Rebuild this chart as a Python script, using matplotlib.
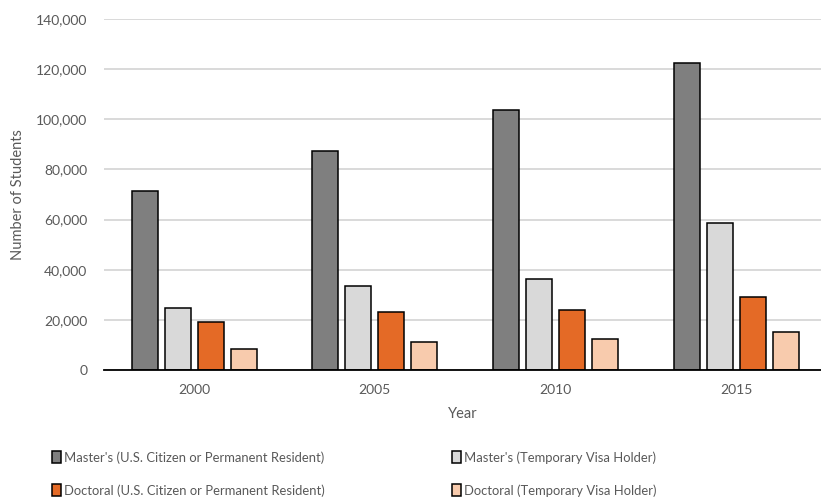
import matplotlib
matplotlib.use("Agg")
import matplotlib.pyplot as plt
import numpy as np

years = ["2000", "2005", "2010", "2015"]
series_names = [
    "Master's (U.S. Citizen or Permanent Resident)",
    "Master's (Temporary Visa Holder)",
    "Doctoral (U.S. Citizen or Permanent Resident)",
    "Doctoral (Temporary Visa Holder)",
]
masters_us = [71500, 87400, 103700, 122400]
masters_temp = [24900, 33500, 36200, 58700]
doctoral_us = [19300, 23000, 23900, 29300]
doctoral_temp = [8400, 11300, 12500, 15000]
colors = ["#7f7f7f", "#d9d9d9", "#e46a26", "#f8cbad"]
yticks = [0, 20000, 40000, 60000, 80000, 100000, 120000, 140000]

plt.rcParams['font.family'] = ['Lato', 'DejaVu Sans']
text_color = "#595959"

fig = plt.figure(figsize=(8.21, 4.98), dpi=100)
ax = fig.add_axes([104/821, 1-370/498, 1-104/821, 351/498])

x = np.arange(len(years))
width = 0.144
stride = 0.183
all_series = [masters_us, masters_temp, doctoral_us, doctoral_temp]
handles = []
for i, (vals, name, c) in enumerate(zip(all_series, series_names, colors)):
    h = ax.bar(x + (i - 1.5) * stride, vals, width, color=c, edgecolor="black",
               linewidth=1.1, label=name, zorder=3)
    handles.append(h)

ax.set_ylim(0, 140000)
ax.set_xlim(-0.5, 3.47)
ax.set_yticks(yticks)
ax.set_yticklabels([f"{v:,}" for v in yticks])
ax.set_xticks(x)
ax.set_xticklabels(years)
ax.yaxis.grid(True, color="#d9d9d9", linewidth=1.4, zorder=0)
ax.set_axisbelow(True)
for s in ["top", "right", "left"]:
    ax.spines[s].set_visible(False)
ax.spines["bottom"].set_color("black")
ax.spines["bottom"].set_linewidth(1.3)
ax.spines["bottom"].set_zorder(4)
ax.tick_params(axis="both", length=0, colors=text_color, labelsize=10)
ax.tick_params(axis="y", pad=12)
ax.tick_params(axis="x", pad=10)
ax.set_ylabel("Number of Students", color=text_color, fontsize=10.5, labelpad=8)
ax.set_xlabel("Year", color=text_color, fontsize=10.5, labelpad=8)

order = [0, 2, 1, 3]
leg = fig.legend([handles[i] for i in order], [series_names[i] for i in order],
                 loc="upper left", bbox_to_anchor=(52/821, 1-451/498), ncol=2,
                 frameon=False, fontsize=9.4, handlelength=0.7, handleheight=1.0,
                 handletextpad=0.2, columnspacing=9.75, labelspacing=1.58,
                 borderpad=0, borderaxespad=0)
for t in leg.get_texts():
    t.set_color(text_color)

fig.savefig("out.png", dpi=100)
